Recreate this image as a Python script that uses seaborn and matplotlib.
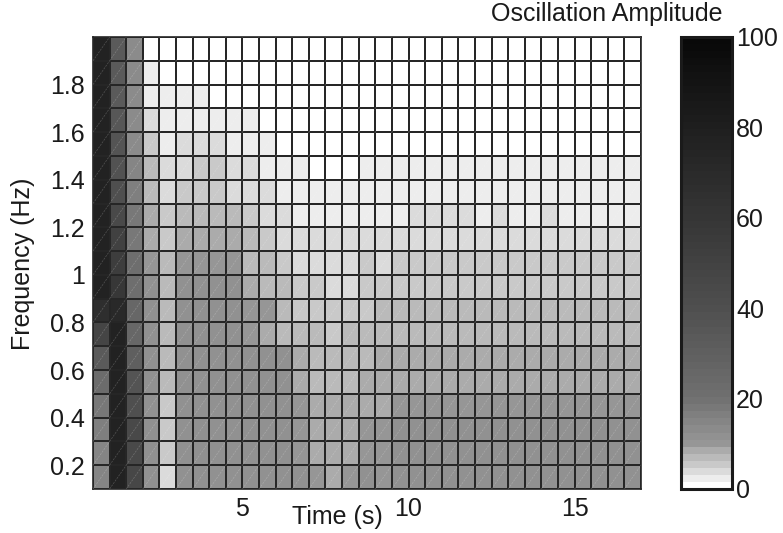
import numpy as np
import pandas as pd
import matplotlib
matplotlib.use("Agg")
import matplotlib.pyplot as plt
from matplotlib.colors import ListedColormap
from matplotlib.collections import LineCollection
import seaborn as sns

# ---------------- data ----------------
# column centres (time, s) and row centres (frequency, Hz, top -> bottom)
time_s = np.arange(0.75, 17.0, 0.5)
freq_hz = np.round(np.arange(1.95, 0.1, -0.1), 2)

# oscillation amplitude read per row (top row = 1.9-2.0 Hz)
f_1_95 = [78, 33, 12.7, 0.5, 0.5, 0.5, 0.5, 0.5, 0.5, 0.5, 0.5, 0.5, 0.5, 0.5, 0.5, 0.5, 0.5, 0.5, 0.5, 0.5, 0.5, 0.5, 0.5, 0.5, 0.5, 0.5, 0.5, 0.5, 0.5, 0.5, 0.5, 0.5, 0.5]
f_1_85 = [78, 33, 12.7, 2.3, 0.5, 0.5, 0.5, 0.5, 0.5, 0.5, 0.5, 0.5, 0.5, 0.5, 0.5, 0.5, 0.5, 0.5, 0.5, 0.5, 0.5, 0.5, 0.5, 0.5, 0.5, 0.5, 0.5, 0.5, 0.5, 0.5, 0.5, 0.5, 0.5]
f_1_75 = [78, 34, 13, 2.3, 2.3, 2.3, 2.3, 0.5, 0.5, 0.5, 0.5, 0.5, 0.5, 0.5, 0.5, 0.5, 0.5, 0.5, 0.5, 0.5, 0.5, 0.5, 0.5, 0.5, 0.5, 0.5, 0.5, 0.5, 0.5, 0.5, 0.5, 0.5, 0.5]
f_1_65 = [78, 35, 13.5, 3.9, 2.3, 2.3, 2.3, 2.3, 2.3, 2.3, 0.5, 0.5, 0.5, 0.5, 0.5, 0.5, 0.5, 0.5, 0.5, 0.5, 0.5, 0.5, 0.5, 0.5, 0.5, 0.5, 0.5, 0.5, 0.5, 0.5, 0.5, 0.5, 0.5]
f_1_55 = [78, 36, 14, 5.5, 2.3, 3.9, 3.9, 3.9, 2.3, 2.3, 2.3, 0.5, 0.5, 0.5, 0.5, 0.5, 0.5, 0.5, 0.5, 0.5, 0.5, 0.5, 0.5, 0.5, 0.5, 0.5, 0.5, 0.5, 0.5, 0.5, 0.5, 0.5, 0.5]
f_1_45 = [78, 38, 15.3, 7.0, 3.9, 3.9, 5.5, 5.5, 3.9, 3.9, 2.3, 2.3, 2.3, 0.5, 0.5, 0.5, 2.3, 2.3, 2.3, 2.3, 2.3, 2.3, 2.3, 2.3, 2.3, 2.3, 2.3, 2.3, 2.3, 2.3, 2.3, 2.3, 2.3]
f_1_35 = [78, 40, 16.7, 7.0, 3.9, 5.5, 5.5, 5.5, 3.9, 3.9, 3.9, 2.3, 2.3, 2.3, 2.3, 2.3, 2.3, 2.3, 2.3, 2.3, 2.3, 2.3, 2.3, 2.3, 2.3, 2.3, 2.3, 2.3, 2.3, 2.3, 2.3, 2.3, 2.3]
f_1_25 = [78, 44, 18.7, 8.6, 5.5, 7.0, 7.0, 7.0, 7.0, 5.5, 3.9, 3.9, 2.3, 2.3, 2.3, 2.3, 2.3, 2.3, 2.3, 3.9, 3.9, 3.9, 3.9, 2.3, 3.9, 2.3, 2.3, 3.9, 2.3, 2.3, 2.3, 2.3, 2.3]
f_1_15 = [78, 50, 18.7, 8.6, 5.5, 8.6, 8.6, 8.6, 8.6, 7.0, 5.5, 3.9, 3.9, 3.9, 3.9, 3.9, 3.9, 3.9, 3.9, 3.9, 3.9, 3.9, 3.9, 3.9, 3.9, 3.9, 3.9, 3.9, 3.9, 3.9, 3.9, 3.9, 3.9]
f_1_05 = [78, 54, 20.5, 10, 7.0, 10, 10, 10, 10, 7.0, 7.0, 5.5, 3.9, 3.9, 3.9, 3.9, 5.5, 3.9, 5.5, 5.5, 5.5, 5.5, 5.5, 5.5, 5.5, 5.5, 5.5, 5.5, 5.5, 5.5, 5.5, 5.5, 5.5]
f_0_95 = [78, 58, 21.7, 11.5, 7.0, 11.5, 11.5, 11.5, 11.5, 8.6, 7.0, 7.0, 5.5, 5.5, 3.9, 3.9, 5.5, 5.5, 5.5, 5.5, 5.5, 5.5, 5.5, 5.5, 5.5, 5.5, 5.5, 5.5, 5.5, 5.5, 5.5, 5.5, 5.5]
f_0_85 = [66, 71, 25, 11.5, 7.0, 11.5, 11.5, 11.5, 11.5, 10, 10, 7.0, 5.5, 5.5, 5.5, 5.5, 5.5, 7.0, 7.0, 7.0, 7.0, 7.0, 7.0, 7.0, 7.0, 7.0, 7.0, 7.0, 7.0, 7.0, 7.0, 7.0, 7.0]
f_0_75 = [48, 78, 26, 11.5, 7.0, 11.5, 11.5, 11.5, 11.5, 10, 8.6, 7.0, 7.0, 7.0, 5.5, 7.0, 7.0, 7.0, 7.0, 7.0, 7.0, 7.0, 7.0, 7.0, 7.0, 7.0, 7.0, 7.0, 7.0, 7.0, 7.0, 7.0, 7.0]
f_0_65 = [33, 78, 30, 11.5, 7.0, 11.5, 11.5, 11.5, 11.5, 11.5, 11.5, 11.5, 8.6, 7.0, 7.0, 7.0, 7.0, 8.6, 8.6, 8.6, 8.6, 8.6, 8.6, 8.6, 8.6, 8.6, 8.6, 8.6, 8.6, 8.6, 8.6, 8.6, 8.6]
f_0_55 = [22, 78, 36, 11.5, 7.0, 11.5, 11.5, 11.5, 11.5, 11.5, 11.5, 11.5, 8.6, 7.0, 7.0, 7.0, 8.6, 8.6, 8.6, 8.6, 8.6, 8.6, 8.6, 8.6, 8.6, 8.6, 8.6, 8.6, 8.6, 8.6, 8.6, 8.6, 8.6]
f_0_45 = [17.5, 78, 40, 11.5, 5.5, 11.5, 11.5, 11.5, 11.5, 11.5, 11.5, 11.5, 10, 8.6, 8.6, 8.6, 8.6, 8.6, 10, 10, 10, 10, 10, 10, 10, 10, 10, 10, 10, 10, 10, 10, 10]
f_0_35 = [16, 78, 44, 11.5, 5.5, 11.5, 11.5, 11.5, 11.5, 11.5, 11.5, 11.5, 10, 8.6, 8.6, 8.6, 10, 10, 11.5, 11.5, 11.5, 11.5, 11.5, 11.5, 11.5, 11.5, 11.5, 11.5, 11.5, 11.5, 11.5, 11.5, 11.5]
f_0_25 = [15.3, 78, 44, 11.5, 5.5, 11.5, 11.5, 11.5, 11.5, 11.5, 11.5, 11.5, 10, 8.6, 8.6, 8.6, 10, 10, 11.5, 11.5, 11.5, 11.5, 11.5, 11.5, 11.5, 11.5, 11.5, 11.5, 11.5, 11.5, 11.5, 11.5, 11.5]
f_0_15 = [14.7, 78, 46, 11.5, 3.9, 11.5, 11.5, 11.5, 11.5, 11.5, 11.5, 11.5, 11.5, 10, 8.6, 10, 11.5, 10, 11.5, 11.5, 11.5, 11.5, 11.5, 11.5, 11.5, 11.5, 11.5, 11.5, 11.5, 11.5, 11.5, 11.5, 11.5]

rows = [f_1_95, f_1_85, f_1_75, f_1_65, f_1_55, f_1_45, f_1_35, f_1_25, f_1_15, f_1_05,
        f_0_95, f_0_85, f_0_75, f_0_65, f_0_55, f_0_45, f_0_35, f_0_25, f_0_15]

xtick_vals = [5, 10, 15]
xtick_labels = ["5", "10", "15"]
ytick_vals = [0.2, 0.4, 0.6, 0.8, 1.0, 1.2, 1.4, 1.6, 1.8]
ytick_labels = ["0.2", "0.4", "0.6", "0.8", "1", "1.2", "1.4", "1.6", "1.8"]
cbar_ticks = [0, 20, 40, 60, 80, 100]

# ---------------- colormap (64 levels, light steps at the low end) ----------------
light_levels = [1.0, 0.93, 0.86, 0.79, 0.73, 0.67]
grad_v = [9.4, 12, 20, 40, 60, 80, 100]
grad_g = [0.60, 0.565, 0.44, 0.31, 0.21, 0.12, 0.03]
n_levels = 64
step = 100 / n_levels
greys = []
for k in range(n_levels):
    if k < len(light_levels):
        g = light_levels[k]
    else:
        g = float(np.interp((k + 0.5) * step, grad_v, grad_g))
    greys.append((g, g, g))
cmap = ListedColormap(greys)

# ---------------- figure ----------------
sns.set_theme(style="white")
plt.rcParams["font.family"] = ["Liberation Sans", "DejaVu Sans"]
W, H = 783, 533
fig = plt.figure(figsize=(W / 100, H / 100), dpi=100)
ax = fig.add_axes([93 / W, 1 - 489 / H, (641 - 93) / W, (489 - 37) / H])
cax = fig.add_axes([681 / W, 1 - 489 / H, 51 / W, (489 - 37) / H])

df = pd.DataFrame(rows, index=freq_hz, columns=np.round(time_s, 2))
sns.heatmap(df, ax=ax, cmap=cmap, vmin=0, vmax=100, linewidths=1.2,
            linecolor="#262626", cbar_ax=cax, xticklabels=False, yticklabels=False)

nr, nc = df.shape
# faint triangle diagonals in each cell
segs = []
for j in range(nr):
    for i in range(nc):
        segs.append([(i, j + 1), (i + 1, j)])
ax.add_collection(LineCollection(segs, colors="white", linewidths=0.5, alpha=0.22,
                                 linestyles=(0, (3, 1.5)), zorder=3))

# axis ticks in data units -> heatmap positions
dt = time_s[1] - time_s[0]
t_edges = np.concatenate([time_s - dt / 2, [time_s[-1] + dt / 2]])
df_ = freq_hz[0] - freq_hz[1]
f_top = freq_hz[0] + df_ / 2
xpos = np.interp(xtick_vals, t_edges, np.arange(nc + 1))
ypos = [(f_top - f) / df_ for f in ytick_vals]
ax.set_xticks(xpos)
ax.set_xticklabels(xtick_labels)
ax.set_yticks(ypos)
ax.set_yticklabels(ytick_labels, rotation=0)
ax.tick_params(axis="both", length=0, labelsize=18, colors="#1a1a1a", pad=6)
ax.set_xlabel("Time (s)", fontsize=18, color="#1a1a1a")
ax.set_ylabel("Frequency (Hz)", fontsize=18, color="#1a1a1a")
ax.xaxis.set_label_coords((337 - 93) / 548, (489 - 517) / 452)
ax.xaxis.label.set_va("center")
ax.yaxis.set_label_coords((23 - 93) / 548, (489 - 264) / 452)
ax.yaxis.label.set_va("center")
for s in ax.spines.values():
    s.set_visible(True)
    s.set_color("#262626")
    s.set_linewidth(1.2)

# colorbar styling
cb = ax.collections[0].colorbar
cb.set_ticks(cbar_ticks)
cb.set_ticklabels([str(t) for t in cbar_ticks])
cb.outline.set_visible(True)
cb.outline.set_linewidth(2.2)
cb.outline.set_edgecolor("#1a1a1a")
cax.tick_params(axis="y", direction="in", length=4, width=1.2, color="#1a1a1a",
                left=True, right=True, labelleft=False, labelright=True,
                labelsize=18, labelcolor="#1a1a1a", pad=3)
fig.text(607 / W, 1 - 14 / H, "Oscillation Amplitude", ha="center", va="center",
         fontsize=18, color="#1a1a1a")

fig.savefig("out.png", dpi=100)
